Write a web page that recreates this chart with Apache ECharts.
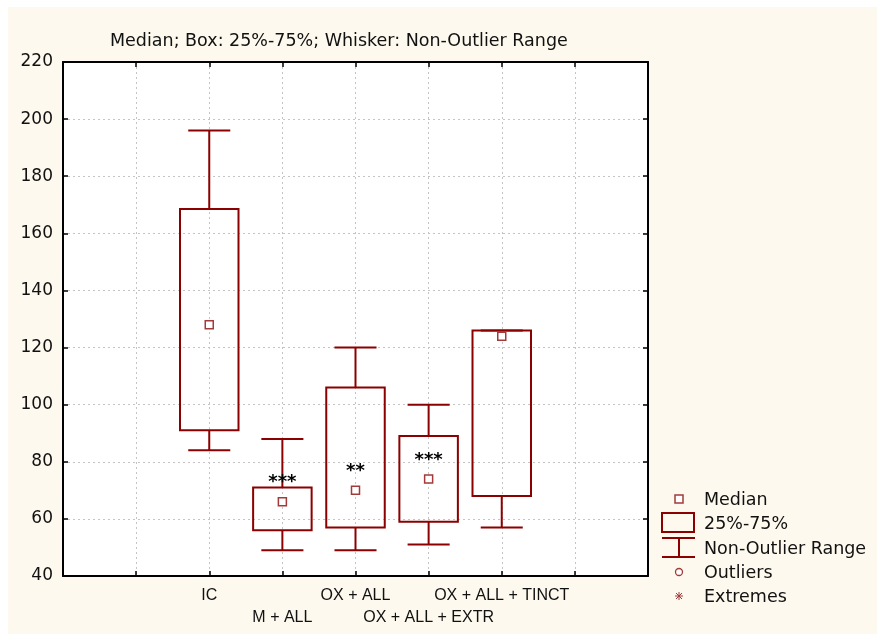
<!DOCTYPE html>
<html>
<head>
<meta charset="utf-8">
<script src="https://cdn.jsdelivr.net/npm/echarts@6/dist/echarts.min.js"></script>
<style>
html,body{margin:0;padding:0;background:#ffffff;}
#bg{position:absolute;left:8px;top:7px;width:869px;height:627px;background:#fdf9ee;}
#chart{position:absolute;left:0;top:0;width:877px;height:635px;}
</style>
</head>
<body>
<div id="bg"></div>
<div id="chart"></div>
<script>
// ---- data ----
const categories = ['IC', 'M + ALL', 'OX + ALL', 'OX + ALL + EXTR', 'OX + ALL + TINCT'];
const whiskerLow = [84, 49, 49, 51, 57];
const q1 = [91, 56, 57, 59, 68];
const median = [128, 66, 70, 74, 124];
const q3 = [168.5, 71, 106, 89, 126];
const whiskerHigh = [196, 88, 120, 100, 126];
const signif = ['', '***', '**', '***', ''];
const yTicks = [40, 60, 80, 100, 120, 140, 160, 180, 200, 220];
const titleText = 'Median; Box: 25%-75%; Whisker: Non-Outlier Range';
const legendLabels = ['Median', '25%-75%', 'Non-Outlier Range', 'Outliers', 'Extremes'];

// axis slots: two empty slots on the left, two on the right
const axisCats = ['', ''].concat(categories, ['', '']);
const offset = 2;
const boxData = categories.map((c, i) => [i + offset, whiskerLow[i], q1[i], median[i], q3[i], whiskerHigh[i], i]);

const RED = '#8b0000';
const chart = echarts.init(document.getElementById('chart'), null, {renderer: 'canvas'});

function renderBox(params, api) {
  const x = api.value(0);
  const idx = api.value(6);
  const pLo = api.coord([x, api.value(1)]);
  const pQ1 = api.coord([x, api.value(2)]);
  const pMd = api.coord([x, api.value(3)]);
  const pQ3 = api.coord([x, api.value(4)]);
  const pHi = api.coord([x, api.value(5)]);
  const band = api.size([1, 0])[0];
  const bw = band * 0.8;
  const cw = band * 0.575;
  const cx = pMd[0];
  const ls = {stroke: RED, lineWidth: 2};
  const children = [
    {type: 'line', shape: {x1: cx, y1: pHi[1], x2: cx, y2: pQ3[1]}, style: ls},
    {type: 'line', shape: {x1: cx, y1: pQ1[1], x2: cx, y2: pLo[1]}, style: ls},
    {type: 'line', shape: {x1: cx - cw / 2, y1: pHi[1], x2: cx + cw / 2, y2: pHi[1]}, style: ls},
    {type: 'line', shape: {x1: cx - cw / 2, y1: pLo[1], x2: cx + cw / 2, y2: pLo[1]}, style: ls},
    {type: 'rect', shape: {x: cx - bw / 2, y: pQ3[1], width: bw, height: pQ1[1] - pQ3[1]},
      style: {fill: 'rgba(0,0,0,0)', stroke: RED, lineWidth: 2}},
    {type: 'rect', shape: {x: cx - 4, y: pMd[1] - 4, width: 8, height: 8},
      style: {fill: '#ffffff', stroke: '#a33a3a', lineWidth: 1.5}}
  ];
  const s = signif[idx];
  if (s) {
    children.push({type: 'text', x: cx, y: pMd[1] - 19,
      style: {text: s, fill: '#000', font: 'bold 18px "DejaVu Sans", sans-serif',
        align: 'center', verticalAlign: 'middle'}});
  }
  return {type: 'group', children: children};
}

// legend drawn with graphic elements
const LX = 679, LT = 704;
const legendY = [499, 523, 548, 572, 596];
const legendFont = '17.5px "DejaVu Sans", sans-serif';
const legendGraphics = [
  {type: 'rect', shape: {x: LX - 4, y: legendY[0] - 4, width: 8, height: 8}, style: {fill: '#fff', stroke: '#a33a3a', lineWidth: 1.5}},
  {type: 'rect', shape: {x: 662, y: 513, width: 32, height: 19}, style: {fill: 'rgba(0,0,0,0)', stroke: RED, lineWidth: 2}},
  {type: 'line', shape: {x1: 662, y1: 538, x2: 695, y2: 538}, style: {stroke: RED, lineWidth: 2}},
  {type: 'line', shape: {x1: LX, y1: 538, x2: LX, y2: 557}, style: {stroke: RED, lineWidth: 2}},
  {type: 'line', shape: {x1: 662, y1: 557, x2: 695, y2: 557}, style: {stroke: RED, lineWidth: 2}},
  {type: 'circle', shape: {cx: LX, cy: legendY[3], r: 3.5}, style: {fill: '#fff', stroke: '#a33a3a', lineWidth: 1.3}},
  {type: 'line', shape: {x1: LX - 4, y1: legendY[4], x2: LX + 4, y2: legendY[4]}, style: {stroke: '#a33a3a', lineWidth: 1}},
  {type: 'line', shape: {x1: LX, y1: legendY[4] - 4, x2: LX, y2: legendY[4] + 4}, style: {stroke: '#a33a3a', lineWidth: 1}},
  {type: 'line', shape: {x1: LX - 3, y1: legendY[4] - 3, x2: LX + 3, y2: legendY[4] + 3}, style: {stroke: '#a33a3a', lineWidth: 1}},
  {type: 'line', shape: {x1: LX - 3, y1: legendY[4] + 3, x2: LX + 3, y2: legendY[4] - 3}, style: {stroke: '#a33a3a', lineWidth: 1}}
].concat(legendLabels.map((t, i) => ({
  type: 'text', x: LT, y: legendY[i] + 1,
  style: {text: t, fill: '#111', font: legendFont, align: 'left', verticalAlign: 'middle'}
})));

const option = {
  backgroundColor: 'transparent',
  animation: false,
  title: {
    text: titleText, left: 105, top: 27,
    textStyle: {fontFamily: 'DejaVu Sans', fontSize: 17.5, fontWeight: 'normal', color: '#111'}
  },
  grid: {left: 63, right: 229, top: 62, bottom: 59, show: true, backgroundColor: '#ffffff', borderWidth: 0},
  xAxis: [
    {
      type: 'category', data: axisCats, boundaryGap: false, position: 'bottom',
      axisLine: {lineStyle: {color: '#000', width: 2}},
      axisTick: {inside: true, length: 5, interval: 0, lineStyle: {color: '#000', width: 1.5}},
      axisLabel: {
        interval: 0, margin: 9, color: '#111', fontSize: 16, fontFamily: '"Liberation Sans", Arial, sans-serif',
        lineHeight: 22,
        formatter: (v, i) => (i % 2 === 1 ? '\n' + v : v)
      },
      splitLine: {show: true, interval: 0, lineStyle: {color: '#c4c4c4', type: [2, 3], width: 1}}
    },
    {
      type: 'category', data: axisCats, boundaryGap: false, position: 'top',
      axisLine: {lineStyle: {color: '#000', width: 2}},
      axisTick: {inside: true, length: 5, interval: 0, lineStyle: {color: '#000', width: 1.5}},
      axisLabel: {show: false}, splitLine: {show: false}
    }
  ],
  yAxis: [
    {
      type: 'value', min: yTicks[0], max: yTicks[yTicks.length - 1], interval: 20, position: 'left',
      axisLine: {show: true, lineStyle: {color: '#000', width: 2}},
      axisTick: {show: true, inside: true, length: 5, lineStyle: {color: '#000', width: 1.5}},
      axisLabel: {margin: 10, color: '#111', fontSize: 17, fontFamily: 'DejaVu Sans'},
      splitLine: {show: true, lineStyle: {color: '#c4c4c4', type: [2, 3], width: 1}}
    },
    {
      type: 'value', min: yTicks[0], max: yTicks[yTicks.length - 1], interval: 20, position: 'right',
      axisLine: {show: true, lineStyle: {color: '#000', width: 2}},
      axisTick: {show: true, inside: true, length: 5, lineStyle: {color: '#000', width: 1.5}},
      axisLabel: {show: false}, splitLine: {show: false}
    }
  ],
  graphic: legendGraphics,
  series: [{
    type: 'custom',
    xAxisIndex: 0, yAxisIndex: 0,
    renderItem: renderBox,
    encode: {x: 0, y: [1, 2, 3, 4, 5]},
    data: boxData,
    z: 5
  }]
};
chart.setOption(option);
</script>
</body>
</html>
